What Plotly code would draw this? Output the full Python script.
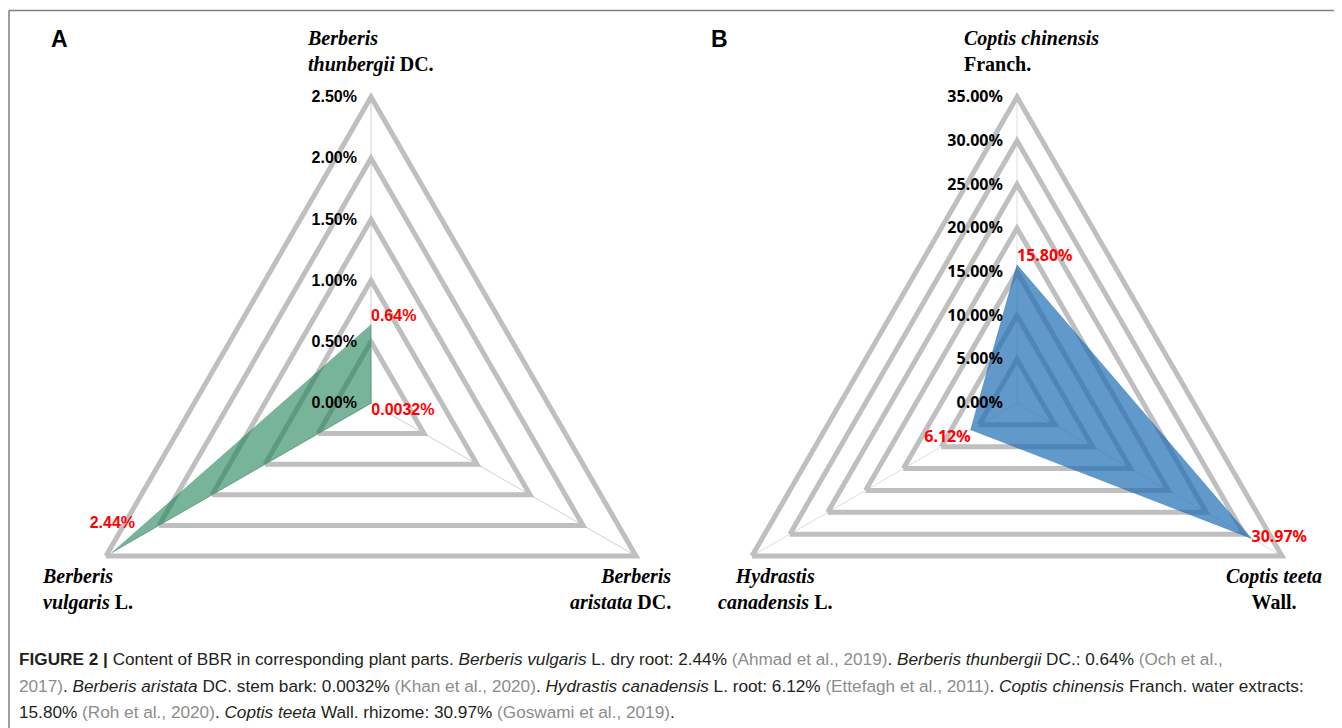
import plotly.graph_objects as go

# page body has an 8px margin: draw in a 1334x720 figure and offset reference coords
OX, OY = 8, 8
W, H = 1342 - OX, 728 - OY

def px(x):
    return (x - OX) / W

def py(y):
    return 1 - (y - OY) / H

# ---- data ----
a_categories = ["Berberis thunbergii DC.", "Berberis aristata DC.", "Berberis vulgaris L."]
a_values = [0.64, 0.0032, 2.44]
a_labels = ["0.64%", "0.0032%", "2.44%"]
a_tickvals = [0.0, 0.5, 1.0, 1.5, 2.0, 2.5]
a_ticktext = ["0.00%", "0.50%", "1.00%", "1.50%", "2.00%", "2.50%"]

b_categories = ["Coptis chinensis Franch.", "Coptis teeta Wall.", "Hydrastis canadensis L."]
b_values = [15.80, 30.97, 6.12]
b_labels = ["15.80%", "30.97%", "6.12%"]
b_tickvals = [0, 5, 10, 15, 20, 25, 30, 35]
b_ticktext = ["0.00%", "5.00%", "10.00%", "15.00%", "20.00%", "25.00%", "30.00%", "35.00%"]

GRID = "#bfbfbf"
fig = go.Figure()

def add_panel(cats, vals, labels, polar, fillcolor, lblfont, lblsize, positions, lift):
    fig.add_trace(go.Scatterpolar(
        r=vals + [vals[0]], theta=cats + [cats[0]], subplot=polar,
        mode="lines", fill="toself", fillcolor=fillcolor,
        line=dict(color=fillcolor, width=0.5), hoverinfo="skip", showlegend=False))
    # labels flagged in `lift` are raised one text line above their point
    shown = [t + "<br> " if up else t for t, up in zip(labels, lift)]
    fig.add_trace(go.Scatterpolar(
        r=vals, theta=cats, subplot=polar, mode="text", text=shown,
        textposition=positions,
        textfont=dict(color="#ff0000", size=lblsize, family=lblfont, weight="bold"),
        hoverinfo="skip", showlegend=False))

add_panel(a_categories, a_values, a_labels, "polar", "rgba(30,130,85,0.6)",
          "Liberation Sans", 16, ["top right", "bottom right", "top center"], [False, False, True])
add_panel(b_categories, b_values, b_labels, "polar2", "rgba(30,110,180,0.7)",
          "Noto Sans", 16, ["top right", "middle right", "bottom left"], [False, False, False])

def polar_layout(cx, cy, rad, rmax, tv, tt, tickfont, spokecolor):
    return dict(
        domain=dict(x=[px(cx - rad), px(cx + rad)], y=[py(cy + rad), py(cy - rad)]),
        gridshape="linear", bgcolor="white",
        radialaxis=dict(range=[0, rmax], tickvals=tv, ticktext=tt,
                        angle=90, tickangle=90, side="counterclockwise", showline=False,
                        ticks="outside", ticklen=8, tickcolor="rgba(0,0,0,0)",
                        gridcolor=GRID, gridwidth=5, tickfont=tickfont, layer="above traces"),
        angularaxis=dict(rotation=90, direction="clockwise", showticklabels=False, ticks="",
                         gridcolor=spokecolor, gridwidth=1, linecolor=GRID, linewidth=5,
                         showline=True, layer="below traces"),
    )

fig.update_layout(
    width=W, height=H, margin=dict(l=0, r=0, t=0, b=0),
    paper_bgcolor="white", plot_bgcolor="white",
    polar=polar_layout(371, 403, 306, 2.5, a_tickvals, a_ticktext,
                       dict(family="Liberation Sans", size=16, color="black", weight="bold"),
                       "#d0d0d0"),
    polar2=polar_layout(1017, 403, 306, 35, b_tickvals, b_ticktext,
                        dict(family="Noto Sans", size=16, color="black", weight="bold"),
                        "#d6deeb"),
)

serif = "Liberation Serif"
def label(x, y, text, align, xanchor):
    fig.add_annotation(x=px(x), y=py(y), xref="paper", yref="paper", text=text,
                       showarrow=False, align=align, xanchor=xanchor, yanchor="middle",
                       font=dict(family=serif, size=20, color="black"))

label(305, 51, "<b><i>Berberis</i></b><br><b><i>thunbergii</i> DC.</b>", "left", "left")
label(40, 589, "<b><i>Berberis</i></b><br><b><i>vulgaris</i> L.</b>", "left", "left")
label(673, 589, "<b><i>Berberis</i></b><br><b><i>aristata</i> DC.</b>", "right", "right")
label(962, 51, "<b><i>Coptis chinensis</i></b><br><b>Franch.</b>", "left", "left")
label(775, 589, "<b><i>Hydrastis</i></b><br><b><i>canadensis</i> L.</b>", "center", "center")
label(1274, 589, "<b><i>Coptis teeta</i></b><br><b>Wall.</b>", "center", "center")

for x, t in [(49, "A"), (709, "B")]:
    fig.add_annotation(x=px(x), y=py(39), xref="paper", yref="paper", text="<b>%s</b>" % t,
                       showarrow=False, xanchor="left", yanchor="middle",
                       font=dict(family="Liberation Sans", size=23, color="black"))

# frame lines
fig.add_shape(type="line", xref="paper", yref="paper", x0=px(9), x1=1, y0=py(10.5), y1=py(10.5),
              line=dict(color="#7f7f7f", width=1.5))
fig.add_shape(type="line", xref="paper", yref="paper", x0=px(9), x1=px(9), y0=0, y1=py(10.5),
              line=dict(color="#7f7f7f", width=1.5))

G = "<span style='color:#8c8c8c'>%s</span>"
cap = [
    "<b>FIGURE 2 |</b> Content of BBR in corresponding plant parts. <i>Berberis vulgaris</i> L. dry root: 2.44% "
    + G % "(Ahmad et al., 2019)" + ". <i>Berberis thunbergii</i> DC.: 0.64% " + G % "(Och et al.,",
    G % "2017)" + ". <i>Berberis aristata</i> DC. stem bark: 0.0032% " + G % "(Khan et al., 2020)"
    + ". <i>Hydrastis canadensis</i> L. root: 6.12% " + G % "(Ettefagh et al., 2011)"
    + ". <i>Coptis chinensis</i> Franch. water extracts:",
    "15.80% " + G % "(Roh et al., 2020)" + ". <i>Coptis teeta</i> Wall. rhizome: 30.97% "
    + G % "(Goswami et al., 2019)" + ".",
]
for i, t in enumerate(cap):
    fig.add_annotation(x=px(17), y=py(659 + 26.5 * i), xref="paper", yref="paper", text=t,
                       showarrow=False, xanchor="left", yanchor="middle", align="left",
                       font=dict(family="Liberation Sans", size=17.2, color="#231f20"))

fig.write_html("out.html")
